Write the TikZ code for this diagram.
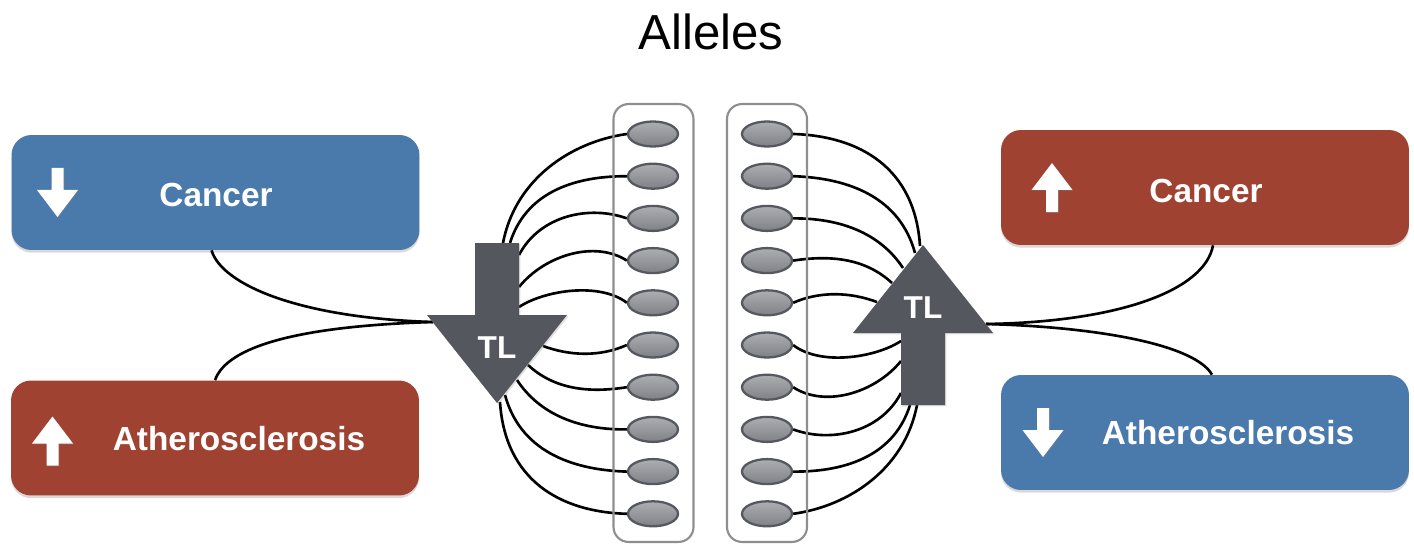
\documentclass[tikz,border=0pt]{standalone}
\usepackage{fontspec}
\setmainfont{Liberation Sans}
\usetikzlibrary{shapes.geometric,shadows,calc,backgrounds}
\definecolor{boxblue}{HTML}{4A7AAB}
\definecolor{boxred}{HTML}{A04232}
\definecolor{tlgray}{HTML}{54575E}
\definecolor{colgray}{HTML}{8E8E92}
\definecolor{alleleedge}{HTML}{55585E}
\definecolor{alleletop}{HTML}{ADAEB2}
\definecolor{allelebot}{HTML}{808186}
\tikzset{
  downicon/.pic={\fill[white, drop shadow={shadow xshift=0.6pt, shadow yshift=-0.6pt, opacity=0.3}]
    (-6,-24.5) -- (6,-24.5) -- (6,-2.5) -- (20.5,-2.5) -- (0,24.5) -- (-20.5,-2.5) -- (-6,-2.5) -- cycle;},
  upicon/.pic={\fill[white, drop shadow={shadow xshift=0.6pt, shadow yshift=-0.6pt, opacity=0.3}]
    (-6,24.5) -- (6,24.5) -- (6,2.5) -- (20.5,2.5) -- (0,-24.5) -- (-20.5,2.5) -- (-6,2.5) -- cycle;}
}
\begin{document}
\begin{tikzpicture}[x=0.02cm, y=-0.02cm,
  riskbox/.style={rounded corners=0.4cm, minimum width=8.16cm, minimum height=2.3cm, inner sep=0pt,
    drop shadow={shadow xshift=0pt, shadow yshift=-1.5pt, opacity=0.3}},
  blueriskbox/.style={riskbox, fill=boxblue},
  redriskbox/.style={riskbox, fill=boxred},
  risklabel/.style={text=white, font=\bfseries\fontsize{19}{22}\selectfont, anchor=base, inner sep=0pt},
  alleleset/.style={draw=colgray, line width=1.2pt, rounded corners=0.3cm, minimum width=1.6cm,
    minimum height=8.76cm, inner sep=0pt},
  allele/.style={ellipse, draw=alleleedge, line width=1.3pt, top color=alleletop, bottom color=allelebot,
    minimum width=1.0cm, minimum height=0.5cm, inner sep=0pt},
  link/.style={black, line width=1.5pt},
  tlarrow/.style={fill=tlgray, drop shadow={shadow xshift=0.8pt, shadow yshift=-0.8pt, opacity=0.25}},
  tllabel/.style={text=white, font=\bfseries\fontsize{18}{20}\selectfont, anchor=base, inner sep=0pt}
]
\useasboundingbox (0,0) rectangle (1414,544);

% title
\node[font=\fontsize{28}{32}\selectfont, anchor=base, inner sep=0pt] (title) at (711,50) {Alleles};

% the two allele sets
\node[alleleset] (lcol) at (653.5,323) {};
\node[alleleset] (rcol) at (767,323) {};

% allele nodes
\foreach \i in {0,...,9} {
  \node[allele] (L\i) at (653,{134+42.2*\i}) {};
  \node[allele] (R\i) at (767,{134+42.2*\i}) {};
}

% attachment points on the two TL arrows
\coordinate (ljoin) at (433,322);
\coordinate (rjoin) at (986,324);

% links between alleles and the TL arrows (right side is the left side turned by 180 degrees)
\begin{scope}[on background layer]
\foreach \i/\sx/\sy/\ux/\uy/\vx/\vy in {
  0/503/243/515/180/570/142,
  1/510/243/525/195/570/176,
  2/519/255/540/215/590/205,
  3/519/287/545/255/595/240,
  4/519/307/545/290/600/282,
  5/543/346/570/356/600/357,
  6/528/365/555/390/590/393,
  7/517/380/540/415/580/430,
  8/505/395/520/450/570/470,
  9/500/402/505/480/560/512} {
  \pgfmathtruncatemacro\j{9-\i}
  \coordinate (ls\i) at (\sx,\sy);
  \coordinate (rs\j) at ({1420-\sx},{648-\sy});
  \draw[link] (ls\i) .. controls (\ux,\uy) and (\vx,\vy) .. (L\i.west);
  \draw[link] (rs\j) .. controls ({1420-\ux},{648-\uy}) and ({1420-\vx},{648-\vy}) .. (R\j.east);
}
\end{scope}

% risk boxes
\node[blueriskbox] (lcan) at (215.5,192.5) {};
\node[redriskbox]  (lath) at (215,438) {};
\node[redriskbox]  (rcan) at (1205,187.5) {};
\node[blueriskbox] (rath) at (1205,432.5) {};

% links between risk boxes and the TL arrows
\draw[link] ($(lcan.south)+(-4,0)$) .. controls (222,285) and (300,318) .. (ljoin);
\draw[link] (lath.north) .. controls (227,346) and (300,326) .. (ljoin);
\draw[link] ($(rcan.south)+(8,0)$) .. controls (1205,290) and (1120,322) .. (rjoin);
\draw[link] ($(rath.north)+(7,0)$) .. controls (1195,345) and (1100,327) .. (rjoin);

% TL arrows
\fill[tlarrow] (475,243) -- (519,243) -- (519,315) -- (567,315) -- (497,403) -- (427,315) -- (475,315) -- cycle;
\fill[tlarrow] (945,405) -- (901,405) -- (901,333) -- (853,333) -- (923,245) -- (993,333) -- (945,333) -- cycle;
\node[tllabel] (ltl) at (497,358) {TL};
\node[tllabel] (rtl) at (923,318) {TL};

% box labels and icons
\node[risklabel] (lcantext) at (216,207) {Cancer};
\node[risklabel] (lathtext) at (239,450) {Atherosclerosis};
\node[risklabel] (rcantext) at (1206,202) {Cancer};
\node[risklabel] (rathtext) at (1228,444) {Atherosclerosis};
\pic at (57.5,192.5) {downicon};
\pic at (52.5,441) {upicon};
\pic at (1052,187.5) {upicon};
\pic at (1043,432.5) {downicon};
\end{tikzpicture}
\end{document}
